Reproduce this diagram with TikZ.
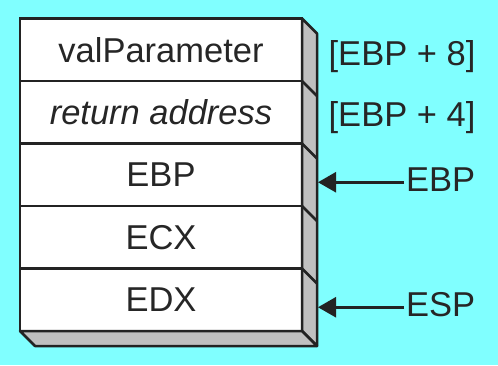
\documentclass[tikz,border=0pt]{standalone}
\usepackage{fontspec}
\setmainfont{Liberation Sans}
\usetikzlibrary{positioning,calc,arrows.meta}

\definecolor{bgcyan}{RGB}{128,255,255}
\definecolor{sidegray}{RGB}{192,192,192}
\definecolor{edge}{RGB}{35,35,35}

\tikzset{
  cell/.style={draw=edge, line width=2.5pt, fill=white, minimum width=282pt,
    minimum height=62.5pt, inner sep=0pt, outer sep=0pt,
    font=\fontsize{34.5}{38}\selectfont, text=black!85},
  reg/.style={inner sep=2pt, font=\fontsize{34.5}{38}\selectfont, text=black!85},
  face/.style={draw=edge, line width=2.5pt, fill=sidegray, line join=round},
  ptr/.style={line width=2.5pt, draw=edge, -{Triangle[length=18pt,width=20pt]}}
}

\begin{document}
\begin{tikzpicture}[x=1pt,y=1pt]
\fill[bgcyan] (0,0) rectangle (498,365);
\useasboundingbox (0,0) rectangle (498,365);

% the stack, top to bottom
\node[cell] (par) at (161,315.25) {valParameter};
\node[cell, below=0pt of par] (ret) {\itshape return address};
\node[cell, below=0pt of ret] (oldebp) {EBP};
\node[cell, below=0pt of oldebp] (ecx) {ECX};
\node[cell, below=0pt of ecx] (edx) {EDX};

% depth faces
\filldraw[face] (par.north east) -- ++(15,-15) -- ($(edx.south east)+(15,-15)$)
  -- (edx.south east) -- cycle;
\filldraw[face] (edx.south west) -- (edx.south east) -- ++(15,-15)
  -- ($(edx.south west)+(15,-15)$) -- cycle;
\foreach \r in {par,ret,oldebp,ecx}
  \draw[edge, line width=2.5pt] (\r.south east) -- ++(15,-15);

% offsets from EBP
\node[reg] (plus8) at (402,308) {[EBP + 8]};
\node[reg] (plus4) at (402,247) {[EBP + 4]};

% register pointers
\coordinate (ebpmark) at ($(oldebp.east)+(16,-7.5)$);
\coordinate (espmark) at ($(edx.east)+(16,-7.5)$);
\node[reg, anchor=west] (ebp) at (404,185) {EBP};
\node[reg, anchor=west] (esp) at (404,60) {ESP};
\draw[ptr] (ebp.west |- ebpmark) -- (ebpmark);
\draw[ptr] (esp.west |- espmark) -- (espmark);
\end{tikzpicture}
\end{document}
